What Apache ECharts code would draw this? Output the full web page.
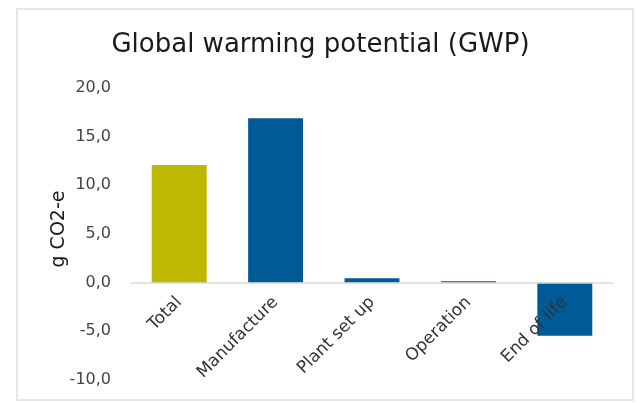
<!DOCTYPE html>
<html>
<head>
<meta charset="utf-8">
<script src="https://cdn.jsdelivr.net/npm/echarts@6/dist/echarts.min.js"></script>
<style>
  html, body { margin: 0; padding: 0; background: #fff; }
  #chart { width: 641px; height: 403px; }
</style>
</head>
<body>
<div id="chart"></div>
<script>
  // data
  const categories = ['Total', 'Manufacture', 'Plant set up', 'Operation', 'End of life']
  const gwpValues = [12.1, 16.9, 0.45, 0.15, -5.45]
  const barColors = ['#bfb800', '#005a96', '#005a96', '#005a96', '#005a96']
  const yAxisName = 'g CO2-e'

  const fontFamily = '"DejaVu Sans", Verdana, sans-serif'
  const yMin = -10
  const yMax = 20
  const gridTop = 88
  const gridBottom = 23
  // the category axis sits on the zero line, so lift it up from the grid bottom
  const plotH = 403 - gridTop - gridBottom
  const zeroLift = plotH * (0 - yMin) / (yMax - yMin)

  const chart = echarts.init(document.getElementById('chart'))
  chart.setOption({
    animation: false,
    backgroundColor: '#fff',
    title: {
      text: 'Global warming potential (GWP)',
      left: 'center',
      top: 27,
      textStyle: { fontFamily, fontSize: 26, fontWeight: 'normal', color: '#1a1a1a' }
    },
    graphic: [
      {
        type: 'rect',
        shape: { x: 17, y: 9, width: 616, height: 391 },
        style: { fill: 'none', stroke: '#e6e6e6', lineWidth: 2 },
        silent: true
      },
      {
        // y axis title, placed by hand like the original
        type: 'text',
        x: 59,
        y: 229,
        rotation: Math.PI / 2,
        style: {
          text: yAxisName,
          font: '19px ' + fontFamily,
          fill: '#1a1a1a',
          align: 'center',
          verticalAlign: 'middle'
        },
        silent: true
      }
    ],
    grid: { left: 131, right: 28, top: gridTop, bottom: gridBottom, outerBoundsMode: 'none' },
    xAxis: {
      type: 'category',
      data: categories,
      z: 10,
      offset: -zeroLift,
      axisLine: { onZero: false, lineStyle: { color: '#d9d9d9', width: 1.5 } },
      axisTick: { show: false },
      axisLabel: {
        rotate: 45,
        margin: 17,
        fontFamily,
        fontSize: 17,
        color: '#333'
      }
    },
    yAxis: {
      type: 'value',
      min: yMin,
      max: yMax,
      interval: 5,
      axisLine: { show: false },
      axisTick: { show: false },
      splitLine: { show: false },
      axisLabel: {
        margin: 20,
        fontFamily,
        fontSize: 16,
        color: '#444',
        formatter: v => v.toFixed(1).replace('.', ',')
      }
    },
    series: [{
      type: 'bar',
      barWidth: '57%',
      data: gwpValues.map((v, i) => ({ value: v, itemStyle: { color: barColors[i] } }))
    }]
  })
</script>
</body>
</html>
